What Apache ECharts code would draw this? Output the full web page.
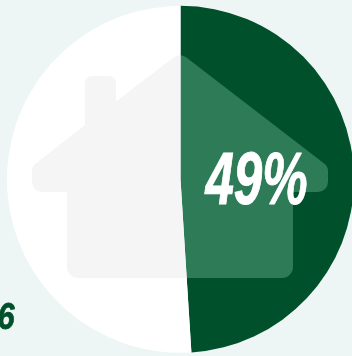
<!DOCTYPE html>
<html>
<head>
<meta charset="utf-8">
<style>
  html, body { margin: 0; padding: 0; background: #eef6f5; }
  #chart { width: 352px; height: 356px; }
</style>
<script src="https://cdn.jsdelivr.net/npm/echarts@6/dist/echarts.min.js"></script>
</head>
<body>
<div id="chart"></div>
<script>
  // Share of the total, clockwise from twelve o'clock
  const sliceNames = ['Share', 'Remainder'];
  const sliceValues = [49, 51];
  const cornerLabel = '6';

  const W = 352, H = 356;

  // Outline of the house, rounded at each corner: x, y, corner radius
  const houseOutline = [
    [180, 52.7, 10], [328, 166.5, 9], [328, 192, 10], [293, 192, 0], [293, 278, 11],
    [67, 278, 11], [67, 192, 0], [32, 192, 10], [32, 166.5, 9], [85, 125, 0],
    [85, 76, 7], [116, 76, 7], [116, 101.5, 0]
  ];

  // A sector fill: flat colour with the house silhouette in a second tone
  function sectorFill(base, house) {
    const c = document.createElement('canvas');
    c.width = W; c.height = H;
    const g = c.getContext('2d');
    g.fillStyle = base;
    g.fillRect(0, 0, W, H);
    g.fillStyle = house;
    g.beginPath();
    const n = houseOutline.length;
    const a = houseOutline[n - 1];
    const b = houseOutline[0];
    g.moveTo((a[0] + b[0]) / 2, (a[1] + b[1]) / 2);
    for (let i = 0; i < n; i++) {
      const p = houseOutline[i], q = houseOutline[(i + 1) % n];
      g.arcTo(p[0], p[1], q[0], q[1], p[2]);
    }
    g.closePath();
    g.fill();
    return { image: c, repeat: 'no-repeat' };
  }

  const chart = echarts.init(document.getElementById('chart'), null, { renderer: 'canvas' });
  chart.setOption({
    animation: false,
    backgroundColor: '#eef6f5',
    series: [{
      type: 'pie',
      center: [180.5, 179.3],
      radius: [0, 173.5],
      startAngle: 90,
      clockwise: true,
      silent: true,
      label: { show: false },
      labelLine: { show: false },
      data: [
        { name: sliceNames[0], value: sliceValues[0], itemStyle: { color: sectorFill('#00502b', '#2e7b58') } },
        { name: sliceNames[1], value: sliceValues[1], itemStyle: { color: sectorFill('#ffffff', '#f5f5f5') } }
      ]
    }],
    graphic: [
      {
        type: 'text', x: 256.5, y: 184, scaleX: 0.69, z: 10, silent: true,
        style: {
          text: sliceValues[0] + '%',
          font: 'italic 700 74px "Liberation Sans", sans-serif',
          fill: '#ffffff', stroke: '#ffffff', lineWidth: 1,
          align: 'center', verticalAlign: 'middle'
        }
      },
      {
        type: 'text', x: 14.5, y: 319, scaleX: 0.85, z: 10, silent: true,
        style: {
          text: cornerLabel,
          font: 'italic 700 36px "Liberation Sans", sans-serif',
          fill: '#00502b', stroke: '#00502b', lineWidth: 0.8,
          align: 'right', verticalAlign: 'middle'
        }
      }
    ]
  });
</script>
</body>
</html>
